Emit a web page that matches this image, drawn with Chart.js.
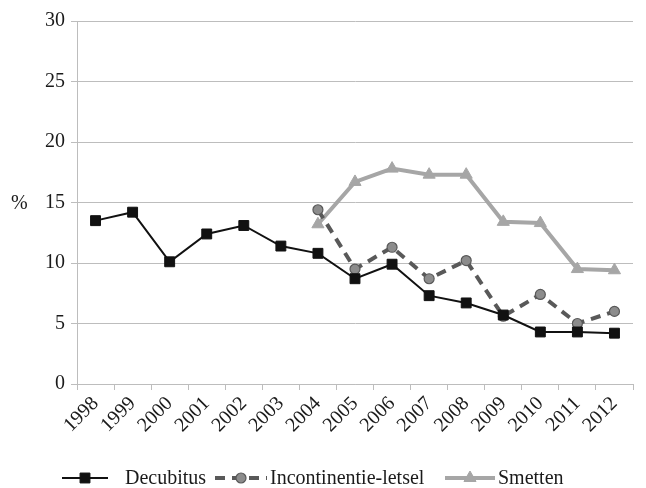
<!DOCTYPE html>
<html>
<head>
<meta charset="utf-8">
<script src="https://cdn.jsdelivr.net/npm/chart.js@4/dist/chart.umd.min.js"></script>
<style>
  html, body { margin: 0; padding: 0; background: #fff; }
  #wrap { width: 646px; height: 488px; }
</style>
</head>
<body>
<div id="wrap"><canvas id="chart" width="646" height="488"></canvas></div>
<script>
var years = ["1998", "1999", "2000", "2001", "2002", "2003", "2004", "2005", "2006", "2007", "2008", "2009", "2010", "2011", "2012"];
var decubitus = [13.5, 14.2, 10.1, 12.4, 13.1, 11.4, 10.8, 8.7, 9.9, 7.3, 6.7, 5.7, 4.3, 4.3, 4.2];
var incontinentie = [null, null, null, null, null, null, 14.4, 9.5, 11.3, 8.7, 10.2, 5.6, 7.4, 5.0, 6.0];
var smetten = [null, null, null, null, null, null, 13.2, 16.7, 17.8, 17.3, 17.3, 13.4, 13.3, 9.5, 9.4];

const FONT = "'Liberation Serif', serif";
const FSIZE = 20;
const GRID = "#bdbdbd";
const TEXT = "#1a1a1a";

// legend and "%" label drawn by hand (line sample with marker in the middle)
const extrasPlugin = {
    id: "extras",
    afterDraw(chart) {
        const ctx = chart.ctx;
        const area = chart.chartArea;
        ctx.save();
        ctx.font = FSIZE + "px " + FONT;
        ctx.fillStyle = TEXT;
        ctx.textBaseline = "middle";
        ctx.textAlign = "left";
        ctx.fillText("%", 11, (area.top + area.bottom) / 2 + 1);

        const y = 478;
        const items = [
            { x1: 62, x2: 108, tx: 125 },
            { x1: 215, x2: 267, tx: 270 },
            { x1: 445, x2: 495, tx: 498 }
        ];
        items.forEach(function (it, i) {
            const ds = chart.data.datasets[i];
            ctx.beginPath();
            ctx.setLineDash(ds.borderDash || []);
            ctx.lineWidth = ds.borderWidth;
            ctx.strokeStyle = ds.borderColor;
            ctx.moveTo(it.x1, y);
            ctx.lineTo(it.x2, y);
            ctx.stroke();
            ctx.setLineDash([]);
            ctx.fillStyle = ds.pointBackgroundColor;
            ctx.strokeStyle = ds.pointBorderColor;
            ctx.lineWidth = ds.pointBorderWidth;
            Chart.helpers.drawPoint(ctx, {
                pointStyle: ds.pointStyle,
                radius: ds.pointRadius,
                borderWidth: ds.pointBorderWidth
            }, (it.x1 + it.x2) / 2, y);
            ctx.fillStyle = TEXT;
            ctx.fillText(ds.label, it.tx, y + 1);
        });
        ctx.restore();
    }
};

const ctx = document.getElementById("chart").getContext("2d");
new Chart(ctx, {
    type: "line",
    data: {
        labels: years,
        datasets: [
            {
                label: "Decubitus",
                data: decubitus,
                borderColor: "#111111",
                borderWidth: 2,
                pointStyle: "rect",
                pointRadius: 7,
                pointBorderWidth: 1,
                pointBackgroundColor: "#111111",
                pointBorderColor: "#111111"
            },
            {
                label: "Incontinentie-letsel",
                data: incontinentie,
                borderColor: "#595959",
                borderWidth: 4,
                borderDash: [10, 7],
                pointStyle: "circle",
                pointRadius: 5,
                pointBorderWidth: 1.2,
                pointBackgroundColor: "#8c8c8c",
                pointBorderColor: "#595959"
            },
            {
                label: "Smetten",
                data: smetten,
                borderColor: "#a6a6a6",
                borderWidth: 4,
                pointStyle: "triangle",
                pointRadius: 7,
                pointBorderWidth: 1,
                pointBackgroundColor: "#a6a6a6",
                pointBorderColor: "#a6a6a6"
            }
        ]
    },
    options: {
        responsive: false,
        animation: false,
        layout: { padding: { left: 0, right: 13, top: 21, bottom: 36 } },
        plugins: {
            legend: { display: false },
            tooltip: { enabled: false }
        },
        scales: {
            x: {
                offset: true,
                grid: {
                    offset: true,
                    drawOnChartArea: false,
                    tickLength: 6,
                    color: GRID
                },
                border: { color: GRID, width: 1 },
                ticks: {
                    font: { family: FONT, size: FSIZE },
                    color: TEXT,
                    maxRotation: 45,
                    minRotation: 45,
                    autoSkip: false,
                    padding: 2
                },
                afterFit: function (scale) { scale.height = 68; }
            },
            y: {
                min: 0,
                max: 30,
                ticks: {
                    stepSize: 5,
                    font: { family: FONT, size: FSIZE },
                    color: TEXT,
                    padding: 6
                },
                grid: { color: GRID, tickLength: 6 },
                border: { color: GRID, width: 1 },
                afterFit: function (scale) { scale.width = 77; }
            }
        }
    },
    plugins: [extrasPlugin]
});
</script>
</body>
</html>
